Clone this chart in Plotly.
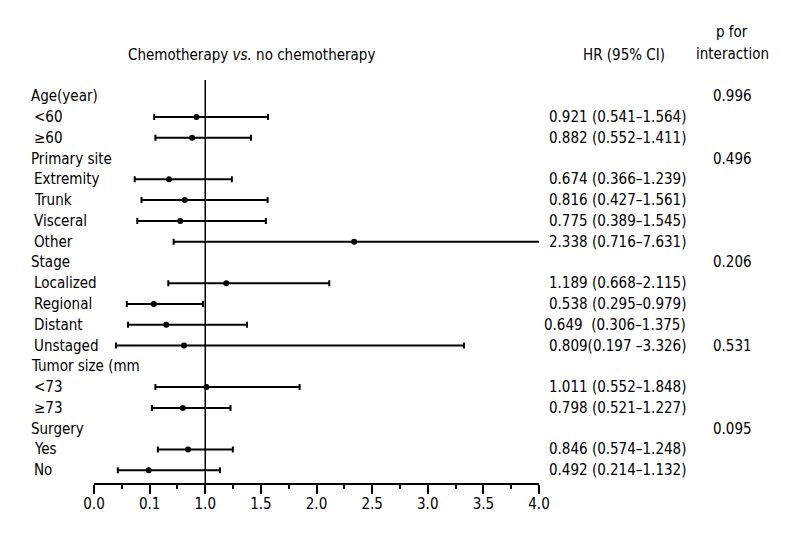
import plotly.graph_objects as go

# ---------------- data ----------------
row_labels = ["Age(year)", "<60", "\u226560", "Primary site", "Extremity", "Trunk", "Visceral", "Other",
              "Stage", "Localized", "Regional", "Distant", "Unstaged", "Tumor size (mm", "<73", "\u226573",
              "Surgery", "Yes", "No"]
hr = [None, 0.921, 0.882, None, 0.674, 0.816, 0.775, 2.338, None, 1.189, 0.538, 0.649, 0.809,
      None, 1.011, 0.798, None, 0.846, 0.492]
ci_low = [None, 0.541, 0.552, None, 0.366, 0.427, 0.389, 0.716, None, 0.668, 0.295, 0.306, 0.197,
          None, 0.552, 0.521, None, 0.574, 0.214]
ci_high = [None, 1.564, 1.411, None, 1.239, 1.561, 1.545, 7.631, None, 2.115, 0.979, 1.375, 3.326,
           None, 1.848, 1.227, None, 1.248, 1.132]
hr_text = ["", "0.921 (0.541\u20131.564)", "0.882 (0.552\u20131.411)", "", "0.674 (0.366\u20131.239)",
           "0.816 (0.427\u20131.561)", "0.775 (0.389\u20131.545)", "2.338 (0.716\u20137.631)", "",
           "1.189 (0.668\u20132.115)", "0.538 (0.295\u20130.979)", "0.649 \u00a0(0.306\u20131.375)",
           "0.809(0.197 \u20133.326)", "", "1.011 (0.552\u20131.848)", "0.798 (0.521\u20131.227)", "",
           "0.846 (0.574\u20131.248)", "0.492 (0.214\u20131.132)"]
p_interaction = ["0.996", "", "", "0.496", "", "", "", "", "0.206", "", "", "", "0.531",
                 "", "", "", "0.095", "", ""]
tick_vals = [0.0, 0.5, 1.0, 1.5, 2.0, 2.5, 3.0, 3.5, 4.0]
tick_text = ["0.0", "0.1", "1.0", "1.5", "2.0", "2.5", "3.0", "3.5", "4.0"]

# ---------------- layout geometry (page coordinates, body margin 8px) ----------------
OFF = 8
W, H = 800 - OFF, 540 - OFF
L, R, T, B = 94 - OFF, 539 - OFF, 80 - OFF, 483 - OFF
PW = R - L
FONT = "DejaVu Sans Condensed, Liberation Sans Narrow, Arial Narrow, sans-serif"
FS = 15
row0, row_step = 96.2 - OFF, 20.78
n = len(row_labels)


def px_x(px):
    return (px - OFF - L) / PW


def py_paper(py):
    return (B - (py - OFF)) / (B - T)


idx = [i for i in range(n) if hr[i] is not None]
fig = go.Figure()
fig.add_trace(go.Scatter(
    x=[hr[i] for i in idx],
    y=idx,
    mode="markers",
    marker=dict(color="black", size=6, symbol="circle"),
    error_x=dict(type="data", symmetric=False,
                 array=[ci_high[i] - hr[i] for i in idx],
                 arrayminus=[hr[i] - ci_low[i] for i in idx],
                 color="black", thickness=2, width=3),
    showlegend=False, hoverinfo="skip",
))

annotations = []
for i, lab in enumerate(row_labels):
    header = hr[i] is None
    annotations.append(dict(x=px_x(29 if header else 32), xref="paper", y=i, yref="y",
                            text=lab, showarrow=False, xanchor="left", yanchor="middle",
                            font=dict(family=FONT, size=FS, color="black")))
    if hr_text[i]:
        annotations.append(dict(x=px_x(688), xref="paper", y=i, yref="y",
                                text=hr_text[i], showarrow=False, xanchor="right", yanchor="middle",
                                font=dict(family=FONT, size=FS, color="black")))
    if p_interaction[i]:
        annotations.append(dict(x=px_x(732), xref="paper", y=i, yref="y",
                                text=p_interaction[i], showarrow=False, xanchor="center",
                                yanchor="middle",
                                font=dict(family=FONT, size=FS, color="black")))

headers = [
    ("Chemotherapy <i>vs.</i> no chemotherapy", 251, 55),
    ("HR (95% CI)", 624, 55),
    ("p for", 732, 32),
    ("interaction", 732, 54),
]
for txt, x, y in headers:
    annotations.append(dict(x=px_x(x), xref="paper", y=py_paper(y), yref="paper",
                            text=txt, showarrow=False, xanchor="center", yanchor="middle",
                            font=dict(family=FONT, size=FS, color="black")))

y_top = (T - row0) / row_step
y_bot = (B - row0) / row_step

fig.update_layout(
    width=W, height=H,
    margin=dict(l=L, r=W - R, t=T, b=H - B, pad=0),
    plot_bgcolor="white", paper_bgcolor="white",
    annotations=annotations,
    shapes=[dict(type="line", xref="x", yref="paper", x0=1, x1=1, y0=0, y1=1,
                 line=dict(color="black", width=1.5))],
    xaxis=dict(range=[0, 4], showgrid=False, zeroline=False, showline=True,
               linecolor="black", linewidth=2, ticks="outside", ticklen=9, tickwidth=2,
               tickcolor="black", tickvals=tick_vals, ticktext=tick_text,
               ticklabelstandoff=-3,
               tickfont=dict(family=FONT, size=FS, color="black"),
               minor=dict(dtick=0.25, tick0=0, ticks="outside", ticklen=4, tickwidth=1.5,
                          tickcolor="black", showgrid=False)),
    yaxis=dict(range=[y_bot, y_top], visible=False, showgrid=False, zeroline=False),
)

fig.write_html("out.html")
